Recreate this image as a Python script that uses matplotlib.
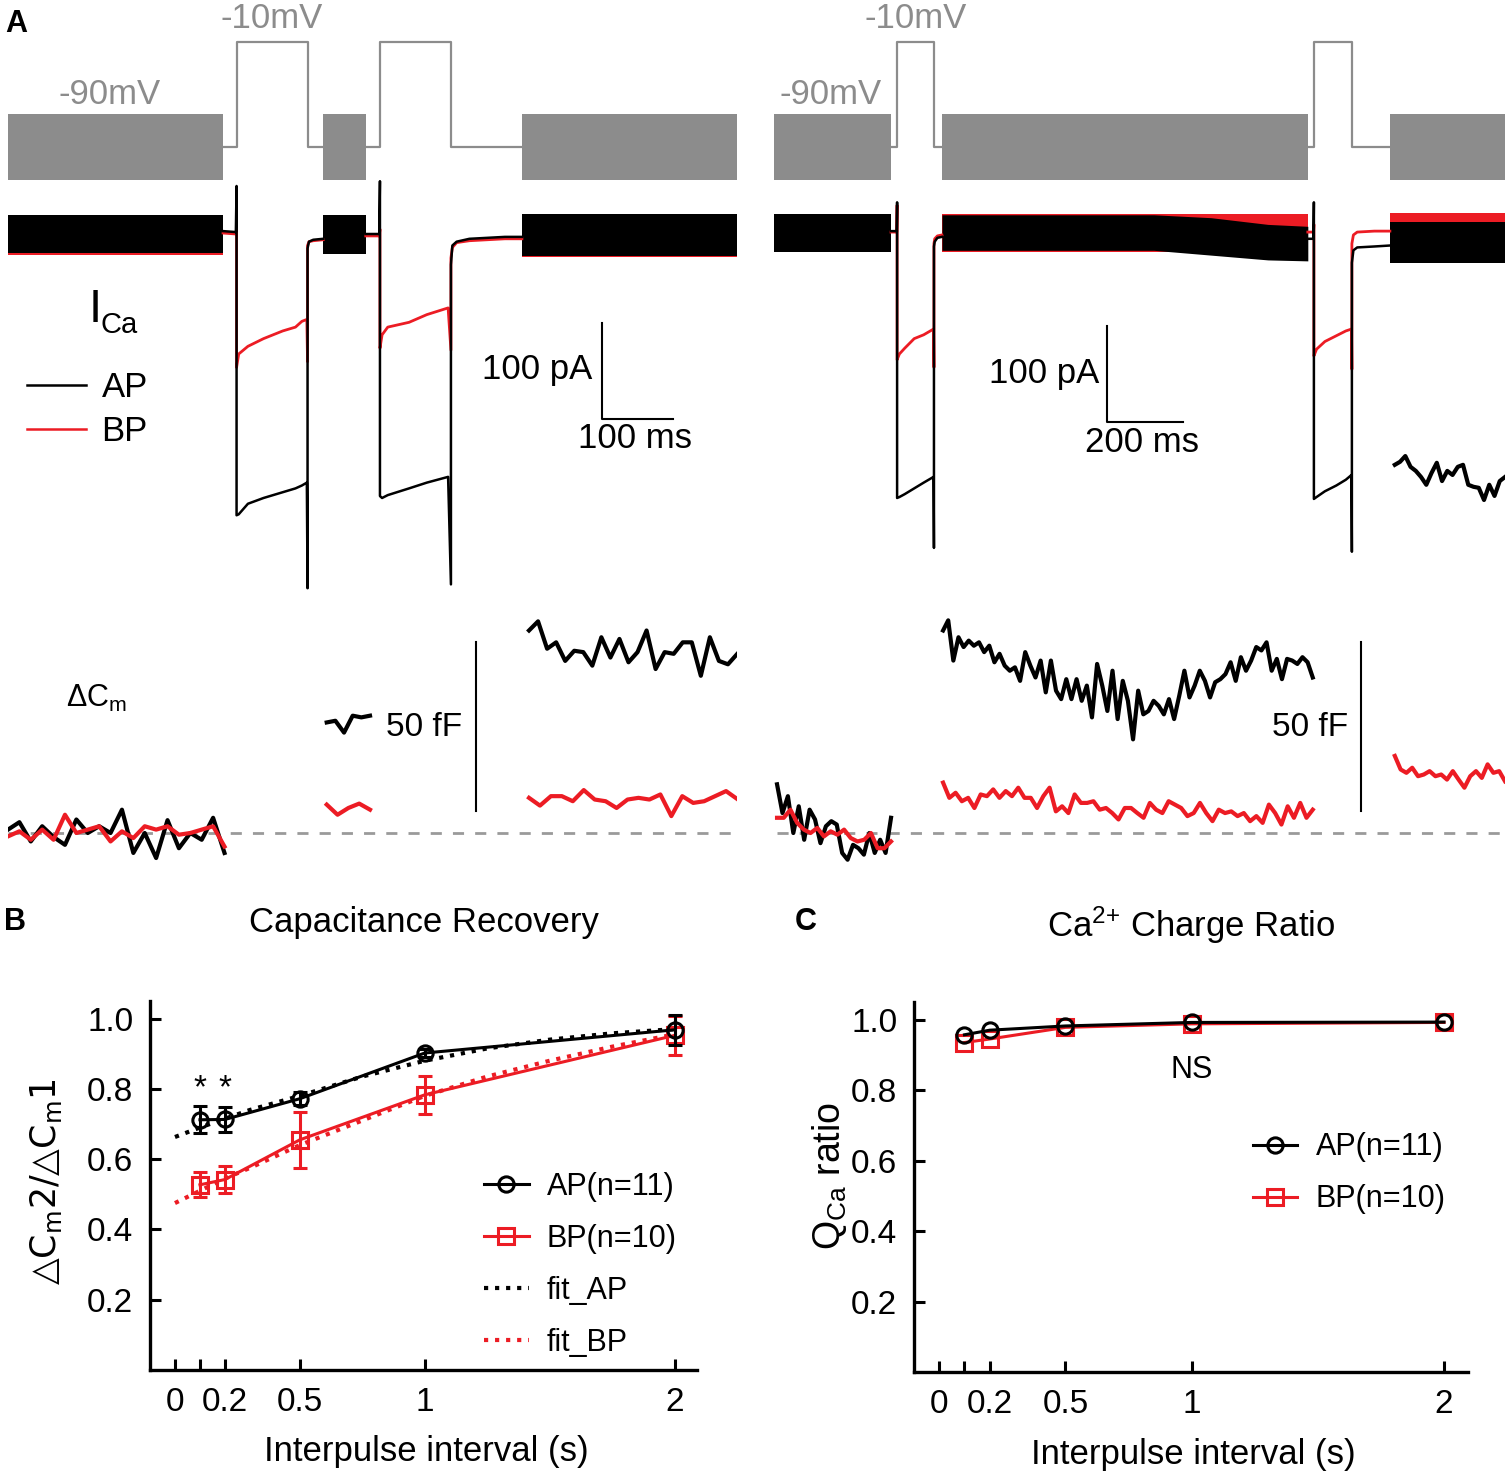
import numpy as np
import matplotlib
matplotlib.use('Agg')
import matplotlib.pyplot as plt
from matplotlib.lines import Line2D

plt.rcParams['font.family'] = ['Liberation Sans', 'DejaVu Sans']
plt.rcParams['mathtext.fontset'] = 'custom'
plt.rcParams['mathtext.rm'] = 'Liberation Sans'
plt.rcParams['mathtext.it'] = 'Liberation Sans:italic'
plt.rcParams['mathtext.bf'] = 'Liberation Sans:bold'
plt.rcParams['mathtext.default'] = 'regular'

W, H = 1510, 1476
RED = '#ec1c24'
GREY = '#8c8c8c'

# ---------------- panel A: example recordings ----------------
# times in ms, voltage in mV, current in pA, capacitance in fF
hold_mv = -90
step_mv = -10
sine_amp_mv = 25

# left example, 100 ms interpulse interval
left_tmax = 1027
left_sine = [(0, 303), (444, 504), (724, 1027)]
left_pulses = [(322, 422), (524, 624)]

# right example, 1 s interpulse interval
right_tmax = 1924
right_sine = [(0, 308), (442, 1405), (1621, 1924)]
right_pulses = [(324, 421), (1421, 1521)]

# noisy current during sine stimulation: (times, low edge, high edge)
left_band_ap = [([0, 303], [-20, -20], [20, 20]),
                ([444, 504], [-21, -21], [20, 20]),
                ([724, 1027], [-23, -23], [21, 21])]
left_band_bp = [([0, 303], [-22, -22], [19, 19]),
                ([444, 504], [-20, -20], [18, 18]),
                ([724, 1027], [-24, -24], [19, 19])]
right_band_ap = [([0, 308], [-19, -19], [21, 21]),
                 ([442, 1000, 1150, 1300, 1405], [-17, -17, -22, -27, -28], [20, 20, 17, 10, 8]),
                 ([1621, 1924], [-30, -30], [13, 13])]
right_band_bp = [([0, 308], [-18, -18], [20, 20]),
                 ([442, 1405], [-19, -19], [21, 21]),
                 ([1621, 1924], [-10, -10], [22, 22])]

# current around the depolarising pulses
left_ica_ap_t = [[303, 321, 322, 322, 325, 338, 360, 387, 405, 414, 421, 422, 422, 424, 430, 444],
                 [504, 523, 524, 524, 527, 535, 565, 590, 620, 624, 624, 626, 632, 650, 700, 724]]
left_ica_ap = [[3, 2, 50, -293, -292, -281, -275, -269, -265, -262, -259, -369, -15, -8, -6, -5],
               [0, 0, 55, -273, -275, -272, -265, -259, -253, -365, -32, -12, -8, -5, -3, -3]]
left_ica_bp = [[1, 0, 5, -139, -125, -117, -109, -101, -97, -91, -89, -133, -12, -8, -7, -6],
               [-2, -2, 5, -119, -105, -97, -92, -84, -77, -121, -25, -14, -9, -7, -5, -5]]

right_ica_ap_t = [[308, 323, 324, 324, 330, 344, 369, 394, 420, 421, 421, 423, 430, 442],
                  [1405, 1420, 1421, 1421, 1428, 1450, 1480, 1505, 1520, 1521, 1521, 1525, 1535, 1580, 1621]]
right_ica_ap = [[3, 3, 33, -275, -274, -271, -265, -259, -253, -327, -13, -8, -4, -3],
                [-5, -5, 33, -276, -274, -268, -262, -256, -251, -331, -30, -17, -14, -13, -12]]
right_ica_bp = [[2, 2, 30, -131, -125, -119, -109, -105, -99, -139, -10, -5, -2, -1],
                [2, 2, 10, -127, -120, -112, -106, -101, -99, -141, -10, -1, 2, 3, 3]]

# membrane capacitance segments (start, end) and values
left_cm_spans = [(0, 305), (449, 510), (734, 1027)]
left_cm_ap = [[1.0, 3.2, -2.5, 2.0, -1.2, -3.5, 4.0, 0.0, 2.0, 0.0, 6.9, -5.9, 0.0, -7.4, 3.8,
               -4.5, 0.0, -2.0, 4.5, -5.9],
              [32.7, 33.2, 29.7, 34.7, 34.2, 34.7],
              [59.9, 62.6, 54.5, 56.4, 50.9, 53.9, 53.5, 49.5, 57.9, 51.9, 57.4, 50.5, 53.5, 59.9,
               48.5, 53.5, 53.0, 56.4, 56.4, 46.5, 57.9, 50.9, 49.9, 52.9]]
left_cm_bp = [[-1.0, 0.5, -2.0, 1.0, -2.0, 5.4, 0.0, 1.0, 2.0, -2.5, 0.5, -1.5, 2.0, 1.0, 2.0,
               -0.5, 0.0, 1.0, 2.0, -4.0],
              [8.4, 5.4, 7.4, 8.7, 6.9],
              [10.4, 8.1, 10.9, 10.9, 9.4, 12.7, 9.9, 9.4, 7.4, 9.9, 10.4, 9.9, 11.4, 5.0, 10.9,
               8.9, 9.4, 10.9, 12.4, 10.1]]

right_cm_spans = [(8, 308), (445, 1418), (1634, 1924)]
right_cm_ap = [[14.4, 5.9, 10.9, 0.0, 7.9, -2.0, 6.9, 4.0, -3.0, 2.0, 3.5, 2.5, -5.9, -7.9, -3.5,
                -4.5, -6.4, 0.0, -5.9, -2.0, -5.9, 4.5],
               [59.9, 62.9, 51.0, 57.9, 55.0, 56.9, 55.4, 56.4, 53.5, 55.4, 50.5, 53.0, 49.5, 48.0,
                49.0, 45.0, 53.5, 49.5, 46.0, 51.0, 41.6, 51.0, 42.1, 39.6, 45.5, 39.6, 45.5, 39.1,
                43.6, 34.2, 50.0, 43.6, 36.1, 48.0, 33.7, 45.0, 39.1, 27.7, 42.1, 35.1, 36.1, 39.1,
                37.6, 35.1, 39.6, 33.7, 40.6, 48.0, 40.1, 43.6, 48.0, 45.0, 40.1, 44.6, 45.5, 47.0,
                50.5, 45.0, 52.0, 48.0, 51.0, 55.0, 54.0, 56.4, 48.0, 51.5, 45.5, 51.5, 51.0, 50.0,
                52.0, 50.5, 46.0],
               [108.9, 109.8, 111.5, 108.3, 107.1, 105.3, 103.0, 106.5, 109.5, 104.1, 107.1, 105.9,
                108.3, 108.9, 103.0, 102.4, 102.1, 98.5, 103.0, 99.7, 104.1, 105.3]]
right_cm_bp = [[4.5, 4.5, 6.9, 3.0, 1.0, 0.0, 1.5, -1.0, 0.5, -0.5, 1.0, -1.5, -2.5, -2.0, 0.0,
                -4.5, -4.5, -2.5],
               [14.9, 10.4, 11.9, 9.4, 10.4, 7.4, 11.4, 10.9, 12.9, 10.4, 12.4, 10.9, 13.4, 10.4,
                10.4, 7.4, 10.9, 13.4, 6.4, 7.9, 5.9, 11.4, 8.9, 8.9, 9.4, 6.9, 7.4, 5.9, 4.0, 7.4,
                7.4, 5.9, 4.5, 8.9, 6.9, 5.9, 9.4, 8.4, 7.4, 5.0, 5.9, 8.9, 5.9, 3.5, 6.9, 5.9,
                6.4, 5.0, 5.9, 3.5, 5.0, 3.0, 8.4, 5.9, 2.5, 7.9, 4.5, 8.9, 4.5, 6.9],
               [22.8, 18.8, 17.8, 19.3, 16.8, 17.3, 18.3, 16.8, 17.3, 15.8, 18.3, 15.8, 13.4, 16.8,
                18.3, 16.3, 20.3, 17.8, 18.3, 15.3]]

# scale bars
bar_pa = 100
bar_ff = 50
bar_ms_left = 100
bar_ms_right = 200

# ---------------- panels B and C: summary ----------------
intervals = [0.1, 0.2, 0.5, 1.0, 2.0]
cm_ratio_ap = [0.712, 0.713, 0.772, 0.902, 0.968]
cm_err_ap = [0.038, 0.036, 0.018, 0.010, 0.042]
cm_ratio_bp = [0.527, 0.542, 0.655, 0.783, 0.952]
cm_err_bp = [0.035, 0.038, 0.080, 0.055, 0.055]
fit_x = [0, 0.1, 0.2, 0.3, 0.5, 0.75, 1.0, 1.25, 1.5, 1.75, 2.0]
fit_ap = [0.663, 0.69, 0.715, 0.74, 0.78, 0.835, 0.88, 0.915, 0.94, 0.958, 0.97]
fit_bp = [0.475, 0.51, 0.545, 0.575, 0.64, 0.71, 0.78, 0.835, 0.88, 0.92, 0.955]
q_ratio_ap = [0.957, 0.970, 0.982, 0.992, 0.993]
q_ratio_bp = [0.935, 0.945, 0.978, 0.988, 0.992]
x_ticks = [0, 0.1, 0.2, 0.5, 1, 2]
x_ticklabels = ['0', '', '0.2', '0.5', '1', '2']
y_ticks = [0.2, 0.4, 0.6, 0.8, 1.0]
y_ticklabels = ['0.2', '0.4', '0.6', '0.8', '1.0']


def px_axes(fig, x0, y0, x1, y1):
    """Add an axes from a pixel rectangle (top-left origin)."""
    ax = fig.add_axes([x0 / W, 1 - y1 / H, (x1 - x0) / W, (y1 - y0) / H])
    ax.set_axis_off()
    ax.patch.set_alpha(0)
    return ax


def ftext(fig, x, y, s, **kw):
    kw.setdefault('ha', 'center')
    kw.setdefault('va', 'center')
    kw.setdefault('fontsize', 25)
    fig.text(x / W, 1 - y / H, s, **kw)


def draw_protocol(ax, sine, pulses, tmax):
    t = [0]
    v = [hold_mv]
    for on, off in pulses:
        t += [on, on, off, off]
        v += [hold_mv, step_mv, step_mv, hold_mv]
    t.append(tmax)
    v.append(hold_mv)
    ax.plot(t, v, color=GREY, lw=1.6)
    for t0, t1 in sine:
        ax.fill_between([t0, t1], hold_mv - sine_amp_mv, hold_mv + sine_amp_mv,
                        color=GREY, lw=0)


def draw_current(ax, bands_ap, bands_bp, t_pulse, ica_ap, ica_bp):
    for tt, lo, hi in bands_bp:
        ax.fill_between(tt, lo, hi, color=RED, lw=0)
    for tt, lo, hi in bands_ap:
        ax.fill_between(tt, lo, hi, color='black', lw=0)
    for tt, yy in zip(t_pulse, ica_bp):
        ax.plot(tt, yy, color=RED, lw=2.0)
    for tt, yy in zip(t_pulse, ica_ap):
        ax.plot(tt, yy, color='black', lw=1.8)


def draw_cm(ax, spans, cm_ap, cm_bp, t_lo, t_hi):
    ax.plot([t_lo, t_hi], [0, 0], color='#9a9a9a', lw=2, ls=(0, (4, 4)))
    for (t0, t1), vals in zip(spans, cm_ap):
        ax.plot(np.linspace(t0, t1, len(vals)), vals, color='black', lw=3)
    for (t0, t1), vals in zip(spans, cm_bp):
        ax.plot(np.linspace(t0, t1, len(vals)), vals, color=RED, lw=3)


def plot_panel_a(fig):
    # pixel geometry of the two examples
    for side in ('left', 'right'):
        if side == 'left':
            x0, x1, tmax = 8, 737, left_tmax
            sine, pulses = left_sine, left_pulses
            bands_ap, bands_bp = left_band_ap, left_band_bp
            t_pulse, ica_ap, ica_bp = left_ica_ap_t, left_ica_ap, left_ica_bp
            spans, cm_ap, cm_bp = left_cm_spans, left_cm_ap, left_cm_bp
            bar_ms, bar_t, cm_bar_t, dash = bar_ms_left, 837, 660, (0, 1027)
        else:
            x0, x1, tmax = 774, 1505, right_tmax
            sine, pulses = right_sine, right_pulses
            bands_ap, bands_bp = right_band_ap, right_band_bp
            t_pulse, ica_ap, ica_bp = right_ica_ap_t, right_ica_ap, right_ica_bp
            spans, cm_ap, cm_bp = right_cm_spans, right_cm_ap, right_cm_bp
            bar_ms, bar_t, cm_bar_t, dash = bar_ms_right, 876, 1545, (8, 1924)

        ax_v = px_axes(fig, x0, 0, x1, 200)
        ax_v.set_xlim(0, tmax)
        ax_v.set_ylim(-130.4, 22.0)
        draw_protocol(ax_v, sine, pulses, tmax)

        ax_i = px_axes(fig, x0, 180, x1, 620)
        ax_i.set_xlim(0, tmax)
        ax_i.set_ylim(-402.1, 56.25)
        draw_current(ax_i, bands_ap, bands_bp, t_pulse, ica_ap, ica_bp)
        bar_top = -93 if side == 'left' else -96
        ax_i.plot([bar_t, bar_t, bar_t + bar_ms], [bar_top, bar_top - bar_pa, bar_top - bar_pa],
                  color='black', lw=1.5)

        ax_c = px_axes(fig, x0, 430, x1, 880)
        ax_c.set_xlim(0, tmax)
        ax_c.set_ylim(-13.9, 119.2)
        draw_cm(ax_c, spans, cm_ap, cm_bp, *dash)
        ax_c.plot([cm_bar_t, cm_bar_t], [6.4, 6.4 + bar_ff], color='black', lw=1.5)

        if side == 'left':
            handles = [Line2D([], [], color='black', lw=1.8), Line2D([], [], color=RED, lw=1.8)]
            ax_i.legend(handles, ['AP', 'BP'], loc='upper left', bbox_to_anchor=(0.026, 0.565),
                        frameon=False, fontsize=25, handlelength=1.7, handletextpad=0.45,
                        labelspacing=0.3, borderpad=0, borderaxespad=0)

    ftext(fig, 5, 24, 'A', ha='left', fontsize=22, fontweight='bold')
    ftext(fig, 110, 94, '-90mV', color=GREY)
    ftext(fig, 272, 19, '-10mV', color=GREY)
    ftext(fig, 831, 94, '-90mV', color=GREY)
    ftext(fig, 916, 19, '-10mV', color=GREY)
    ftext(fig, 89, 322, 'I', ha='left', va='baseline', fontsize=34)
    ftext(fig, 101, 333, 'Ca', ha='left', va='baseline', fontsize=21)
    ftext(fig, 592, 370, '100 pA', ha='right')
    ftext(fig, 635, 438, '100 ms')
    ftext(fig, 1099, 374, '100 pA', ha='right')
    ftext(fig, 1142, 442, '200 ms')
    ftext(fig, 97, 698, 'ΔC$_m$', fontsize=22)
    ftext(fig, 424, 727, '50 fF', fontsize=24)
    ftext(fig, 1310, 727, '50 fF', fontsize=24)


def style_summary(ax, xlim_right):
    ax.set_xlim(-0.1, xlim_right)
    ax.set_ylim(0, 1.05)
    ax.set_xticks(x_ticks)
    ax.set_xticklabels(x_ticklabels)
    ax.set_yticks(y_ticks)
    ax.set_yticklabels(y_ticklabels)
    ax.tick_params(direction='in', length=8, width=2.2, labelsize=24, pad=12)
    for s in ('top', 'right'):
        ax.spines[s].set_visible(False)
    for s in ('left', 'bottom'):
        ax.spines[s].set_linewidth(2.4)
    ax.set_xlabel('Interpulse interval (s)', fontsize=25)
    ax.xaxis.set_label_coords(0.505, -0.222)
    ax.xaxis.label.set_va('center')


def plot_panel_b(fig):
    ax = fig.add_axes([150 / W, 1 - 1370 / H, 547 / W, 369 / H])
    ax.patch.set_alpha(0)
    fa, = ax.plot(fit_x, fit_ap, ls=':', color='black', lw=3, zorder=1)
    fb, = ax.plot(fit_x, fit_bp, ls=':', color=RED, lw=3, zorder=1)
    ap = ax.errorbar(intervals, cm_ratio_ap, yerr=cm_err_ap, color='black', lw=2.2, marker='o',
                     ms=11, mfc='none', mew=2.2, capsize=5, capthick=2.2, elinewidth=2.2,
                     zorder=3)
    bp = ax.errorbar(intervals, cm_ratio_bp, yerr=cm_err_bp, color=RED, lw=2.2, marker='s',
                     ms=11, mfc='none', mew=2.2, capsize=5, capthick=2.2, elinewidth=2.2,
                     zorder=2)
    for x in intervals[:2]:
        ax.text(x, 0.80, '*', ha='center', va='center', fontsize=24)
    style_summary(ax, 2.09)
    ax.set_title('Capacitance Recovery', fontsize=25, pad=50)
    # DejaVu Sans carries the white triangle glyph
    ax.set_ylabel('△C$_m$2/△C$_m$1', fontsize=25, family='DejaVu Sans')
    ax.yaxis.set_label_coords(-0.19, 0.51)
    ax.yaxis.label.set_va('center')
    ax.legend([ap[0], bp[0], fa, fb], ['AP(n=11)', 'BP(n=10)', 'fit_AP', 'fit_BP'],
              loc='upper left', bbox_to_anchor=(0.611, 0.537), frameon=False, fontsize=22,
              numpoints=1, handlelength=1.45, handletextpad=0.6, labelspacing=0.72,
              borderpad=0, borderaxespad=0)
    ftext(fig, 15, 922, 'B', fontsize=22, fontweight='bold')


def plot_panel_c(fig):
    ax = fig.add_axes([914 / W, 1 - 1372 / H, 554 / W, 370 / H])
    ax.patch.set_alpha(0)
    lb, = ax.plot(intervals, q_ratio_bp, color=RED, lw=2.2, marker='s', ms=11, mfc='none',
                  mew=2.2)
    la, = ax.plot(intervals, q_ratio_ap, color='black', lw=2.2, marker='o', ms=11, mfc='none',
                  mew=2.2)
    ax.text(1.0, 0.856, 'NS', ha='center', va='center', fontsize=22)
    style_summary(ax, 2.095)
    ax.set_title('Ca$^{2{+}}$ Charge Ratio', fontsize=25, pad=47)
    ax.set_ylabel('Q$_{Ca}$ ratio', fontsize=27)
    ax.yaxis.set_label_coords(-0.153, 0.53)
    ax.yaxis.label.set_va('center')
    ax.legend([la, lb], ['AP(n=11)', 'BP(n=10)'], loc='upper left',
              bbox_to_anchor=(0.612, 0.648), frameon=False, fontsize=22, numpoints=1,
              handlelength=1.45, handletextpad=0.6, labelspacing=0.72, borderpad=0,
              borderaxespad=0)
    ftext(fig, 806, 922, 'C', fontsize=22, fontweight='bold')


def main():
    fig = plt.figure(figsize=(W / 100, H / 100), dpi=100)
    plot_panel_a(fig)
    plot_panel_b(fig)
    plot_panel_c(fig)
    fig.savefig('out.png', dpi=100)


if __name__ == '__main__':
    main()
